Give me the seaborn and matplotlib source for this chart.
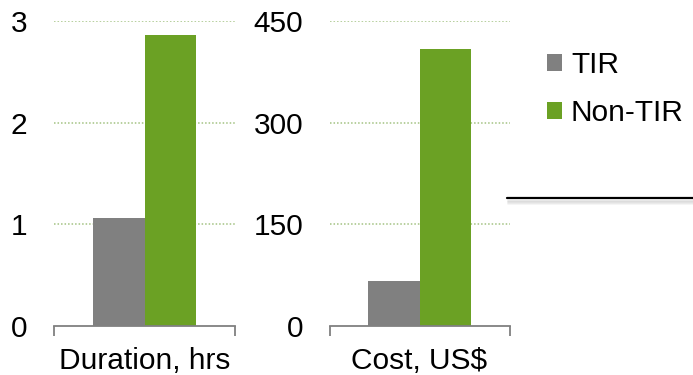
import matplotlib
matplotlib.use("Agg")
import matplotlib.pyplot as plt
import seaborn as sns
import pandas as pd
from matplotlib.lines import Line2D
from matplotlib.patches import Patch

categories = ["Duration, hrs", "Cost, US$"]
groups = ["TIR", "Non-TIR"]
tir_values = [1.06, 66]
non_tir_values = [2.86, 408]
y_ticks = [[0, 1, 2, 3], [0, 150, 300, 450]]
colors = {"TIR": "#808080", "Non-TIR": "#6ba124"}

sns.set_style("white")
plt.rcParams["font.family"] = ["Liberation Sans", "DejaVu Sans"]
plt.rcParams["text.color"] = "black"
plt.rcParams["xtick.labelcolor"] = "black"
plt.rcParams["ytick.labelcolor"] = "black"

fig = plt.figure(figsize=(6.93, 3.75), dpi=100)
axes_rects = [[54 / 693, 1 - 326 / 375, 181 / 693, 305 / 375],
              [329.5 / 693, 1 - 326 / 375, 180 / 693, 305 / 375]]

FS = 21.5
for i, cat in enumerate(categories):
    ax = fig.add_axes(axes_rects[i])
    df = pd.DataFrame({"category": [cat, cat], "group": groups,
                       "value": [tir_values[i], non_tir_values[i]]})
    sns.barplot(data=df, x="category", y="value", hue="group", palette=colors,
                width=0.57, ax=ax, legend=False, saturation=1)
    for p in ax.patches:
        p.set_linewidth(0)
    ax.set_xlim(-0.5, 0.5)
    ax.set_ylim(y_ticks[i][0], y_ticks[i][-1])
    ax.set_yticks(y_ticks[i])
    ax.set_yticklabels([str(t) for t in y_ticks[i]], fontsize=FS, color="black")
    ax.tick_params(axis="y", length=0, pad=19)
    ax.tick_params(axis="x", which="major", length=0, pad=15, labelsize=FS, labelcolor="black")
    ax.set_xlabel("")
    ax.set_ylabel("")
    for t in y_ticks[i][1:]:
        ax.axhline(t, color="#a3c282", lw=1.1, ls=(0, (1, 1.3)), zorder=0)
    for s in ["top", "right", "left"]:
        ax.spines[s].set_visible(False)
    ax.spines["bottom"].set_color("#808080")
    ax.spines["bottom"].set_linewidth(1.3)
    ax.set_xticks([-0.5, 0.5], minor=True)
    ax.tick_params(axis="x", which="minor", bottom=True, length=7, width=1.3,
                   color="#808080", direction="out")
    ax.patch.set_alpha(0)

handles = [Patch(facecolor=colors[g], edgecolor="none") for g in groups]
fig.legend(handles, groups, loc="upper left", bbox_to_anchor=(547 / 693, 1 - 51 / 375),
           frameon=False, fontsize=FS, handlelength=0.5, handleheight=0.5,
           handletextpad=0.3, labelspacing=0.68, borderaxespad=0, borderpad=0,
           labelcolor="black")

# decorative rule with shadow
for k in range(4):
    fig.add_artist(Line2D([508 / 693, 1], [1 - (201 + k) / 375] * 2,
                          color="#c8c8c8", lw=1.2, alpha=0.5 - k * 0.1,
                          transform=fig.transFigure))
fig.add_artist(Line2D([507 / 693, 1], [1 - 198 / 375] * 2, color="black", lw=1.6,
                      transform=fig.transFigure))

fig.savefig("out.png", dpi=100)
